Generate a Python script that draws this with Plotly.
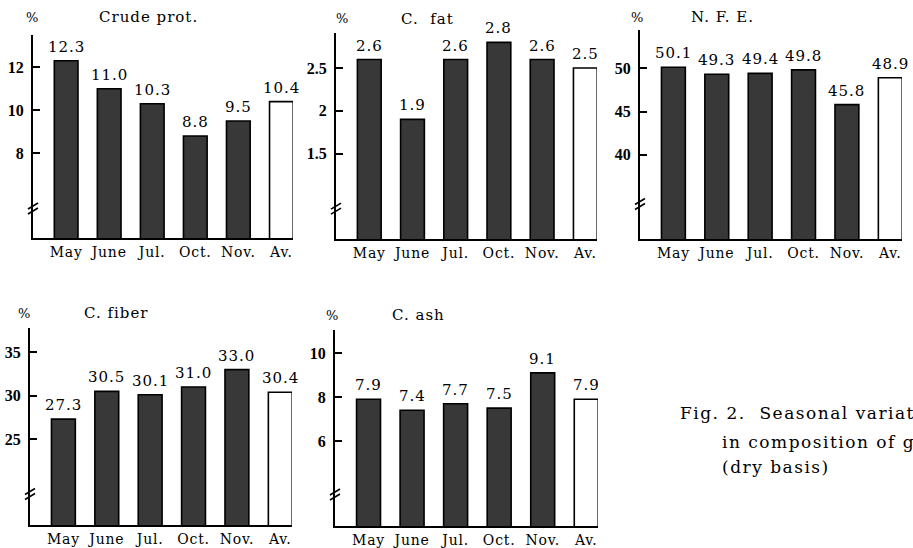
import plotly.graph_objects as go

# ---- data ----
months = ["May", "June", "Jul.", "Oct.", "Nov.", "Av."]
crude_prot = [12.3, 11.0, 10.3, 8.8, 9.5, 10.4]
c_fat = [2.6, 1.9, 2.6, 2.8, 2.6, 2.5]
nfe = [50.1, 49.3, 49.4, 49.8, 45.8, 48.9]
c_fiber = [27.3, 30.5, 30.1, 31.0, 33.0, 30.4]
c_ash = [7.9, 7.4, 7.7, 7.5, 9.1, 7.9]

titles = ["Crude prot.", "C.  fat", "N. F. E.", "C. fiber", "C. ash"]
tick_vals = [[8, 10, 12], [1.5, 2, 2.5], [40, 45, 50], [25, 30, 35], [6, 8, 10]]
tick_text = [["8", "10", "12"], ["1.5", "2", "2.5"], ["40", "45", "50"],
             ["25", "30", "35"], ["6", "8", "10"]]
series = [crude_prot, c_fat, nfe, c_fiber, c_ash]
caption = ["Fig. 2.  Seasonal variation", "in composition of grass", "(dry basis)"]

# ---- layout (pixels) ----
W, H = 913, 548
panels = [
    dict(x0=33, x1=293, yt=35, yb=238, yr=[4.05, 13.5], brk=0.148, pct=(32, 17), tt=(97, 17)),
    dict(x0=336, x1=597, yt=33, yb=239, yr=[0.5, 2.91], brk=0.15, pct=(342, 19), tt=(399, 19)),
    dict(x0=640, x1=902, yt=30, yb=239, yr=[30.3, 54.4], brk=0.17, pct=(637, 17), tt=(689, 17)),
    dict(x0=30, x1=292, yt=328, yb=525, yr=[15.1, 37.8], brk=0.16, pct=(24, 313), tt=(82, 313)),
    dict(x0=335, x1=598, yt=330, yb=526, yr=[2.14, 11.05], brk=0.163, pct=(332, 315), tt=(390, 315)),
]
cap_pos = [(678, 413), (720, 442), (720, 467)]

FONT = "DejaVu Serif"
DARK = "#383838"


def spaced(t, ls=1):
    return f'<span style="letter-spacing:{ls}px">{t}</span>'


fig = go.Figure()
layout = dict(
    width=W, height=H, margin=dict(l=0, r=0, t=0, b=0),
    paper_bgcolor="white", plot_bgcolor="white", showlegend=False,
    font=dict(family=FONT, color="black", size=15),
)
annotations = []
shapes = []

for i, (p, vals) in enumerate(zip(panels, series), start=1):
    sx = "" if i == 1 else str(i)
    colors = [DARK] * (len(vals) - 1) + ["white"]
    fig.add_trace(go.Bar(
        x=months, y=vals, xaxis="x" + sx, yaxis="y" + sx, width=0.55,
        marker=dict(color=colors, line=dict(color="black", width=1.6)),
        hoverinfo="x+y",
    ))
    layout["xaxis" + sx] = dict(
        domain=[p["x0"] / W, p["x1"] / W], range=[-0.77, 5.27], anchor="y" + sx,
        showline=True, linecolor="black", linewidth=2, ticks="", showgrid=False,
        zeroline=False, tickfont=dict(family=FONT, size=14, color="black"),
        tickvals=months, ticktext=[spaced(m, 0.8) for m in months],
        ticklabelstandoff=0,
    )
    layout["yaxis" + sx] = dict(
        domain=[1 - p["yb"] / H, 1 - p["yt"] / H], range=p["yr"], anchor="x" + sx,
        showline=True, linecolor="black", linewidth=2, ticks="inside", ticklen=7,
        tickwidth=2, tickcolor="black", tickvals=tick_vals[i - 1],
        ticktext=tick_text[i - 1], showgrid=False, zeroline=False,
        tickfont=dict(family="Liberation Serif", size=16, color="black", weight="bold"),
        ticklabelstandoff=4,
    )
    for m, v in zip(months, vals):
        annotations.append(dict(
            x=m, y=v, xref="x" + sx, yref="y" + sx, text=spaced(f"{v:.1f}", 1),
            showarrow=False, yanchor="bottom", yshift=3,
            font=dict(family=FONT, size=15, color="black"),
        ))
    annotations.append(dict(
        x=p["pct"][0] / W, y=1 - p["pct"][1] / H, xref="paper", yref="paper",
        text="%", showarrow=False, xanchor="center", yanchor="middle",
        font=dict(family=FONT, size=13, color="black"),
    ))
    annotations.append(dict(
        x=p["tt"][0] / W, y=1 - p["tt"][1] / H, xref="paper", yref="paper",
        text=spaced(titles[i - 1], 1), showarrow=False, xanchor="left", yanchor="middle",
        font=dict(family=FONT, size=15, color="black"),
    ))
    for off in (-3, 2):
        shapes.append(dict(
            type="line", xref=("x" + sx) + " domain", yref=("y" + sx) + " domain",
            xsizemode="pixel", xanchor=0, x0=-5, x1=5,
            ysizemode="pixel", yanchor=p["brk"], y0=off - 3, y1=off + 3,
            line=dict(color="black", width=1.6),
        ))

for t, (x, y) in zip(caption, cap_pos):
    annotations.append(dict(
        x=x / W, y=1 - y / H, xref="paper", yref="paper", text=spaced(t, 1.5),
        showarrow=False, xanchor="left", yanchor="middle",
        font=dict(family=FONT, size=17, color="black"),
    ))

layout["annotations"] = annotations
layout["shapes"] = shapes
fig.update_layout(**layout)
fig.write_html("out.html", config={"displayModeBar": False},
               post_script="document.body.style.margin='0px';")
